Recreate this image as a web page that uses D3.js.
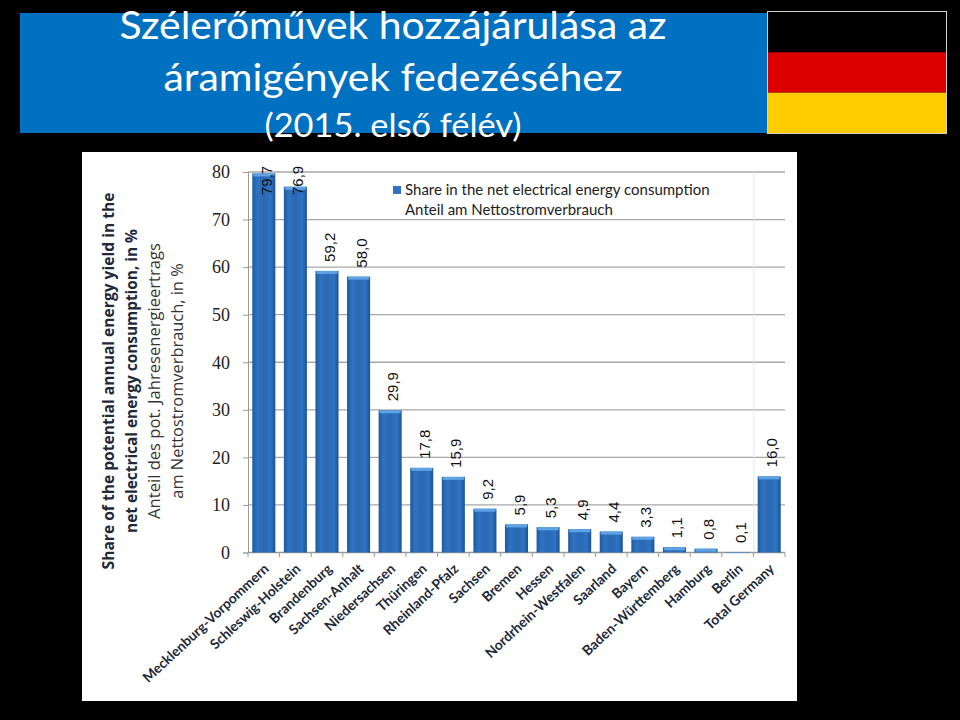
<!DOCTYPE html>
<html>
<head>
<meta charset="utf-8">
<script src="https://cdn.jsdelivr.net/npm/d3@7"></script>
<style>
  html, body { margin: 0; padding: 0; background: #000; }
  svg { display: block; }
</style>
</head>
<body>
<div id="chart"></div>
<script>
const categories = ['Mecklenburg-Vorpommern', 'Schleswig-Holstein', 'Brandenburg', 'Sachsen-Anhalt',
  'Niedersachsen', 'Thüringen', 'Rheinland-Pfalz', 'Sachsen', 'Bremen', 'Hessen', 'Nordrhein-Westfalen',
  'Saarland', 'Bayern', 'Baden-Württemberg', 'Hamburg', 'Berlin', 'Total Germany'];
const shares = [79.7, 76.9, 59.2, 58.0, 29.9, 17.8, 15.9, 9.2, 5.9, 5.3, 4.9, 4.4, 3.3, 1.1, 0.8, 0.1, 16.0];
const yTicks = [0, 10, 20, 30, 40, 50, 60, 70, 80];
const titleLines = ['Szélerőművek hozzájárulása az', 'áramigények fedezéséhez', '(2015. első félév)'];
const legendLines = ['Share in the net electrical energy consumption', 'Anteil am Nettostromverbrauch'];
const axisTitleLines = ['Share of the potential annual energy yield in the', 'net electrical energy consumption, in %',
  'Anteil des pot. Jahresenergieertrags', 'am Nettostromverbrauch, in %'];
const flagColors = ['#000000', '#dd0000', '#ffcc00'];

const svg = d3.select('#chart').append('svg').attr('width', 960).attr('height', 720);
const sans = 'Lato, "Open Sans", sans-serif';

svg.append('rect').attr('width', 960).attr('height', 720).attr('fill', '#000');

// header
svg.append('rect').attr('x', 20).attr('y', 13).attr('width', 747).attr('height', 120).attr('fill', '#0070c0');

// Lato runs wider than the original face, so the lines are fitted to their measured widths
const titleY = [39, 91, 137];
const titleSize = [38.5, 38.5, 33];
const titleWidth = [547, 459, 257];
svg.append('g')
  .attr('font-family', sans)
  .attr('fill', '#fff')
  .attr('text-anchor', 'middle')
  .selectAll('text').data(titleLines).join('text')
  .attr('x', 393)
  .attr('y', (d, i) => titleY[i])
  .attr('font-size', (d, i) => titleSize[i])
  .attr('textLength', (d, i) => titleWidth[i])
  .attr('lengthAdjust', 'spacingAndGlyphs')
  .text(d => d);

// flag
const flagY = d3.scaleBand().domain(flagColors).range([12, 133]);
svg.append('g').selectAll('rect').data(flagColors).join('rect')
  .attr('x', 768).attr('width', 178)
  .attr('y', d => flagY(d)).attr('height', flagY.bandwidth())
  .attr('fill', d => d);
svg.append('rect').attr('x', 767.5).attr('y', 11.5).attr('width', 179).attr('height', 122)
  .attr('fill', 'none').attr('stroke', '#d0d0d0');

// chart panel
svg.append('rect').attr('x', 82).attr('y', 152).attr('width', 715).attr('height', 549).attr('fill', '#fff');

const x = d3.scaleBand().domain(categories).range([248, 785]).paddingInner(0.27).paddingOuter(0.135);
const y = d3.scaleLinear().domain([0, 80]).range([552.5, 172]);

const defs = svg.append('defs');
const grad = defs.append('linearGradient').attr('id', 'barFill');
grad.append('stop').attr('offset', '0%').attr('stop-color', '#1f5a9e');
grad.append('stop').attr('offset', '22%').attr('stop-color', '#2f73c2');
grad.append('stop').attr('offset', '50%').attr('stop-color', '#2a68b2');
grad.append('stop').attr('offset', '80%').attr('stop-color', '#2f73c2');
grad.append('stop').attr('offset', '100%').attr('stop-color', '#1d5291');

// grid
svg.append('g').selectAll('line').data(yTicks.slice(1)).join('line')
  .attr('x1', 248).attr('x2', 785)
  .attr('y1', d => y(d)).attr('y2', d => y(d))
  .attr('stroke', '#a8a8a8').attr('stroke-width', 1.3);

// axes
const yAxis = svg.append('g')
  .attr('transform', 'translate(248,0)')
  .call(d3.axisLeft(y).tickValues(yTicks).tickSize(5).tickPadding(13));
yAxis.selectAll('text').attr('font-family', '"Liberation Serif", serif').attr('font-size', 18).attr('fill', '#222');
yAxis.selectAll('line, path').attr('stroke', '#9a9a9a');

const tickX = d3.scaleLinear().domain([0, categories.length]).range([248, 785]);
svg.append('g').selectAll('line').data(d3.range(categories.length + 1)).join('line')
  .attr('x1', d => tickX(d)).attr('x2', d => tickX(d))
  .attr('y1', 552.5).attr('y2', 557)
  .attr('stroke', '#9a9a9a');

svg.append('line').attr('x1', 248).attr('x2', 785).attr('y1', 552.5).attr('y2', 552.5)
  .attr('stroke', '#9a9a9a').attr('stroke-width', 1.3);
svg.append('line').attr('x1', 754).attr('x2', 754).attr('y1', 172).attr('y2', 552)
  .attr('stroke', '#e6e6e6');

// bars
const bars = svg.append('g').selectAll('g').data(categories).join('g');
bars.append('rect')
  .attr('x', d => x(d))
  .attr('width', x.bandwidth())
  .attr('y', (d, i) => y(shares[i]))
  .attr('height', (d, i) => y(0) - y(shares[i]))
  .attr('fill', 'url(#barFill)');
bars.append('rect')
  .attr('x', d => x(d) + 1)
  .attr('width', x.bandwidth() - 2)
  .attr('y', (d, i) => y(shares[i]))
  .attr('height', (d, i) => Math.min(3, y(0) - y(shares[i])))
  .attr('fill', '#5ea3e6');

// value labels
svg.append('g').selectAll('text').data(categories).join('text')
  .attr('transform', (d, i) => {
    const bottom = Math.max(y(shares[i]) - 9, 195);
    return `translate(${x(d) + x.bandwidth() / 2 + 8},${bottom}) rotate(-90)`;
  })
  .attr('font-family', '"Liberation Sans Narrow", "Liberation Sans", sans-serif')
  .attr('font-size', 15)
  .attr('fill', '#111')
  .text((d, i) => shares[i].toFixed(1).replace('.', ','));

// category labels
svg.append('g').selectAll('text').data(categories).join('text')
  .attr('transform', d => `translate(${x(d) + x.bandwidth() / 2 + 6},${570}) rotate(-43)`)
  .attr('text-anchor', 'end')
  .attr('font-family', sans)
  .attr('font-weight', 700)
  .attr('font-size', 13.8)
  .attr('fill', '#1e2a3a')
  .text(d => d);

// y axis title
const axisTitle = svg.append('g').attr('font-family', '"Open Sans", sans-serif').attr('text-anchor', 'middle');
const axisTitleX = [114, 137, 160, 183];
const axisTitleSize = [15.6, 15.4, 16.6, 16.4];
axisTitle.selectAll('text').data(axisTitleLines).join('text')
  .attr('transform', (d, i) => `translate(${axisTitleX[i]},381) rotate(-90)`)
  .attr('font-size', (d, i) => axisTitleSize[i])
  .attr('font-weight', (d, i) => i < 2 ? 700 : 400)
  .attr('fill', (d, i) => i < 2 ? '#1e2a3a' : '#333')
  .text(d => d);

// legend
svg.append('rect').attr('x', 393).attr('y', 186).attr('width', 8).attr('height', 8).attr('fill', '#2f73c2');
svg.append('g').selectAll('text').data(legendLines).join('text')
  .attr('x', 405)
  .attr('y', (d, i) => 195 + i * 20)
  .attr('font-family', sans)
  .attr('font-size', 15)
  .attr('fill', '#222')
  .text(d => d);
</script>
</body>
</html>
